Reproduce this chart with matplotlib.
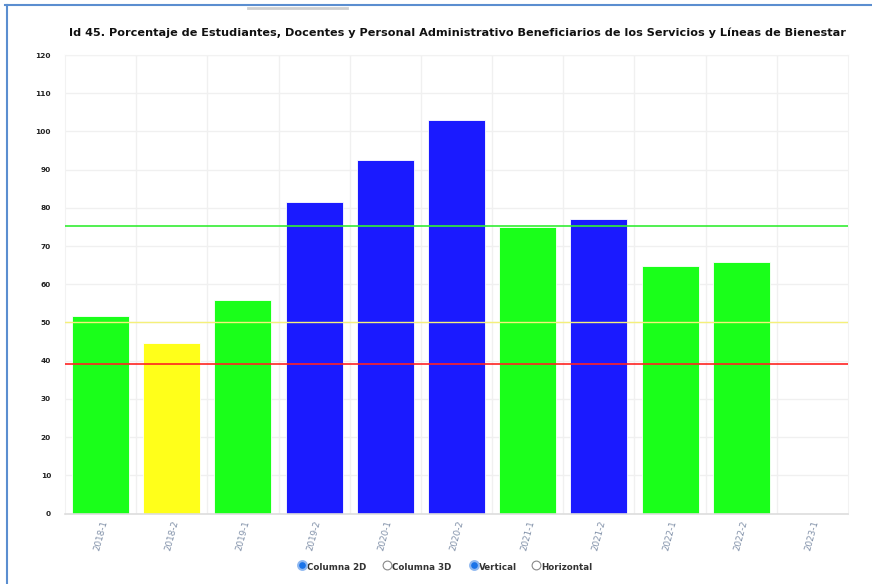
import matplotlib.pyplot as plt
from matplotlib.lines import Line2D

periodos = ["2018-1", "2018-2", "2019-1", "2019-2", "2020-1", "2020-2",
            "2021-1", "2021-2", "2022-1", "2022-2", "2023-1"]
porcentajes = [51.7, 44.5, 55.9, 81.5, 92.4, 103.0, 75.1, 77.0, 64.8, 65.7, 0]

# umbrales de semaforizacion
meta_alta = 75.2
meta_media = 50
meta_baja = 39

titulo = ("Id 45. Porcentaje de Estudiantes, Docentes y Personal Administrativo "
          "Beneficiarios de los Servicios y Líneas de Bienestar")


def color_barra(v):
    if v > 76:
        return "#1a1aff"
    if v >= meta_media:
        return "#1aff1a"
    return "#ffff1a"


colores = [color_barra(v) for v in porcentajes]

W, H = 872, 584
fig = plt.figure(figsize=(W / 100, H / 100), dpi=100)

ax = fig.add_axes([65 / W, 70.5 / H, 783 / W, 458.5 / H])
x = range(len(periodos))
ax.bar(x, porcentajes, width=0.8, color=colores, edgecolor="white",
       linewidth=0.6, zorder=2)
ax.axhline(meta_alta, color="#33ee33", lw=1.2, zorder=3)
ax.axhline(meta_media, color="#f5f07a", lw=1.0, zorder=3)
ax.axhline(meta_baja, color="#ff2222", lw=1.2, zorder=3)

ax.set_xlim(-0.5, len(periodos) - 0.5)
ax.set_ylim(0, 120)
ax.set_yticks(range(0, 121, 10))
ax.set_xticks(x)
ax.set_xticklabels(periodos, rotation=75, ha="center", va="top",
                   fontsize=6.3, color="#8090a8")
ax.tick_params(axis="y", labelsize=5.3, colors="#222222", length=0, pad=10)
for t in ax.get_yticklabels():
    t.set_fontweight("bold")
ax.tick_params(axis="x", length=0, pad=4)

# rejilla en los limites de cada categoria
ax.set_xticks([i + 0.5 for i in range(len(periodos) - 1)], minor=True)
ax.tick_params(axis="x", which="minor", length=0)
ax.grid(True, axis="x", which="minor", color="#f0f0f0", lw=1, zorder=0)
ax.grid(True, axis="y", which="major", color="#f0f0f0", lw=1, zorder=0)
for s in ["top", "right", "left"]:
    ax.spines[s].set_color("#f2f2f2")
ax.spines["bottom"].set_color("#dddddd")
ax.spines["bottom"].set_linewidth(1.2)

fig.text(457 / W, 1 - 33 / H, titulo, ha="center", va="center",
         fontsize=8.1, fontweight="bold", color="#111111")

# marco de la pagina y controles de tipo de grafico
ui = fig.add_axes([0, 0, 1, 1], zorder=5)
ui.set_xlim(0, W)
ui.set_ylim(H, 0)
ui.axis("off")
ui.add_line(Line2D([5, W], [5, 5], color="#5b8ed0", lw=1.5))
ui.add_line(Line2D([7, 7], [5, H], color="#5b8ed0", lw=1.5))
ui.add_line(Line2D([248, 347], [8, 8], color="#cfcfcf", lw=2))

opciones = ["Columna 2D", "Columna 3D", "Vertical", "Horizontal"]
marcadas = [True, False, True, False]
pos_x = [302, 387, 474, 536]
for nombre, marcada, px in zip(opciones, marcadas, pos_x):
    if marcada:
        ui.scatter(px, 565, s=40, facecolor="#1a73e8", edgecolor="#8fb8f0",
                   linewidth=1.5, zorder=6)
    else:
        ui.scatter(px, 565, s=40, facecolor="white", edgecolor="#888888",
                   linewidth=0.8, zorder=6)
    ui.text(px + 5, 568, nombre, fontsize=6.3, fontweight="bold",
            color="#333333", va="center", ha="left")

fig.savefig("out.png", dpi=100)
